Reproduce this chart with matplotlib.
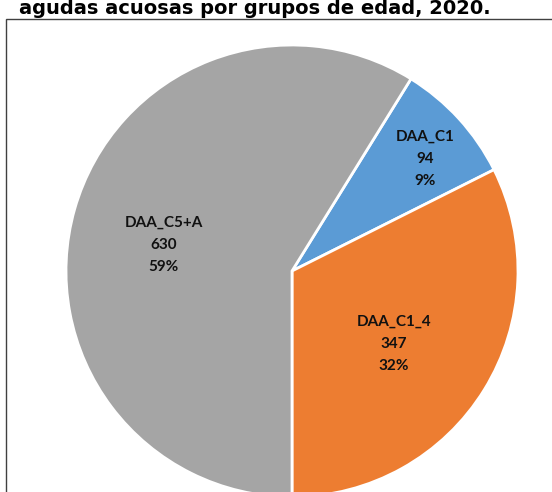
import numpy as np
import matplotlib.pyplot as plt
from matplotlib.patches import Rectangle

# Datos del gráfico
categorias = ['DAA_C1', 'DAA_C1_4', 'DAA_C5+A']
casos = [94, 347, 630]
porcentajes = ['9%', '32%', '59%']
colores = ['#5B9BD5', '#ED7D31', '#A5A5A5']
titulo = 'agudas acuosas por grupos de edad, 2020.'

W, H = 552, 492
fig = plt.figure(figsize=(W / 100, H / 100), dpi=100)

# Marco del área del gráfico (recortado por el borde de la imagen)
top = 19
fig.patches.append(Rectangle((6 / W, -0.1), 1.0, 1 - top / H + 0.1, transform=fig.transFigure,
                             fill=False, edgecolor='#404040', linewidth=1.0))

ax = fig.add_axes([0, 0, 1, 1])
ax.set_xlim(0, W)
ax.set_ylim(0, H)
ax.set_aspect('equal')
ax.axis('off')

cx, cy, r = 292, H - 271, 226
total = sum(casos)
# el tercer sector empieza justo abajo (ángulo del primer sector)
theta0 = 180 - 360 * (casos[0] + casos[1]) / total
wedges, _ = ax.pie(casos, colors=colores, startangle=90 - theta0, counterclock=False,
                   center=(cx, cy), radius=r,
                   wedgeprops=dict(edgecolor='white', linewidth=2))
ax.set_xlim(0, W)
ax.set_ylim(0, H)

# Etiquetas dentro de cada sector
dist = [0.80, 0.53, 0.59]
for w, cat, n, p, d in zip(wedges, categorias, casos, porcentajes, dist):
    ang = np.deg2rad((w.theta1 + w.theta2) / 2)
    x = cx + d * r * np.cos(ang)
    y = cy + d * r * np.sin(ang) - 10
    ax.text(x, y, f'{cat}\n{n}\n{p}', ha='center', va='center', fontsize=11,
            fontweight='bold', family=['Lato', 'DejaVu Sans'], color='#111111',
            linespacing=1.75)

# Título (última línea visible)
fig.text(255 / W, 1 - 14 / H, titulo, ha='center', va='baseline', fontsize=14,
         fontweight='bold', family=['DejaVu Sans'], color='black')

fig.savefig('out.png', dpi=100)
